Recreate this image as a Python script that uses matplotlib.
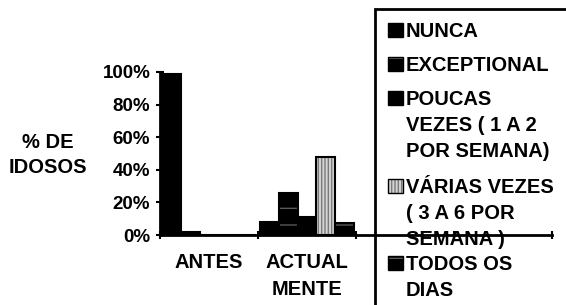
import numpy as np
import matplotlib
matplotlib.use("Agg")
import matplotlib.pyplot as plt
from matplotlib.patches import Rectangle

# ── Data ───────────────────────────────────────────────────────────────────
CATEGORIES = ["ANTES", "ACTUAL\nMENTE", "", ""]
SERIES = [
    "NUNCA",
    "EXCEPTIONAL",
    "POUCAS\nVEZES ( 1 A 2\nPOR SEMANA)",
    "VÁRIAS VEZES\n( 3 A 6 POR\nSEMANA )",
    "TODOS OS\nDIAS",
]
VALUES = {
    "NUNCA":       [0.99, 0.08],
    "EXCEPTIONAL": [0.02, 0.255],
    "POUCAS":      [0.0, 0.11],
    "VARIAS":      [0.0, 0.48],
    "TODOS":       [0.0, 0.075],
}
YTICKS = [0, 0.2, 0.4, 0.6, 0.8, 1.0]
YTICKLABELS = ["0%", "20%", "40%", "60%", "80%", "100%"]

# ── Style ──────────────────────────────────────────────────────────────────
STYLES = [
    dict(face="black", hatch=None, hcol=None),
    dict(face="black", hatch="-", hcol="#5a5a5a"),
    dict(face="black", hatch=None, hcol=None),
    dict(face="#d4d4d4", hatch="|||||", hcol="#7a7a7a"),
    dict(face="black", hatch="-", hcol="#5a5a5a"),
]
FONT = "Liberation Sans"
plt.rcParams["font.family"] = FONT
plt.rcParams["font.weight"] = "bold"
plt.rcParams["hatch.linewidth"] = 1.0

W, H = 566, 305
fig = plt.figure(figsize=(W / 100, H / 100), dpi=100)


def fx(px):
    return px / W


def fy(py):
    return 1 - py / H


ax = fig.add_axes([fx(160), fy(235), fx(552) - fx(160), fy(72) - fy(235)])
ax.patch.set_visible(False)

n_cat = 2
width = 0.19
x = np.arange(n_cat) + 0.5
for i, (key, st) in enumerate(zip(VALUES, STYLES)):
    pos = x + (i - 2) * width
    vals = VALUES[key]
    if st["hatch"]:
        ax.bar(pos, vals, width, color=st["face"], hatch=st["hatch"],
               edgecolor=st["hcol"], linewidth=0, zorder=2)
        ax.bar(pos, vals, width, fill=False, edgecolor="black",
               linewidth=1.5, zorder=3)
    else:
        ax.bar(pos, vals, width, color=st["face"], edgecolor="black",
               linewidth=1.5, zorder=2)

ax.set_xlim(0, 4)
ax.set_ylim(0, 1.0)
ax.set_yticks(YTICKS)
ax.set_yticklabels(YTICKLABELS, fontsize=13.5)
ax.tick_params(axis="y", direction="inout", length=6, width=1.5, pad=4)

ax.set_xticks(np.arange(len(CATEGORIES)) + 0.5)
ax.set_xticklabels(CATEGORIES, fontsize=14.5, linespacing=1.5)
ax.tick_params(axis="x", which="major", length=0, pad=13)
ax.set_xticks(np.arange(len(CATEGORIES) + 1), minor=True)
ax.tick_params(axis="x", which="minor", direction="inout", length=6, width=1.5)

for s in ("top", "right"):
    ax.spines[s].set_visible(False)
for s in ("left", "bottom"):
    ax.spines[s].set_linewidth(2)

fig.text(fx(48), fy(155), "% DE\nIDOSOS", ha="center", va="center",
         fontsize=14.5, linespacing=1.35)

# ── Legend box (drawn behind the axes, the axis line crosses it) ───────────
fig.patches.append(Rectangle((fx(375), fy(320)), fx(200), fy(9) - fy(320),
                             transform=fig.transFigure, fill=False,
                             edgecolor="black", linewidth=2, zorder=-1))
baselines = [37, 71, 105, 193, 270]
LINE_STEP = 26
for label, st, b in zip(SERIES, STYLES, baselines):
    sq = Rectangle((fx(388), fy(b)), fx(15), fy(b - 14) - fy(b),
                   transform=fig.transFigure, facecolor=st["face"],
                   edgecolor=st["hcol"] if st["hatch"] else "black",
                   hatch=st["hatch"], linewidth=0, zorder=-1)
    fig.patches.append(sq)
    fig.patches.append(Rectangle((fx(388), fy(b)), fx(15), fy(b - 14) - fy(b),
                                 transform=fig.transFigure, fill=False,
                                 edgecolor="black", linewidth=1, zorder=-1))
    for k, line in enumerate(label.split("\n")):
        fig.text(fx(406), fy(b + k * LINE_STEP), line, ha="left",
                 va="baseline", fontsize=14.5, zorder=-1)

fig.savefig("out.png", dpi=100)
